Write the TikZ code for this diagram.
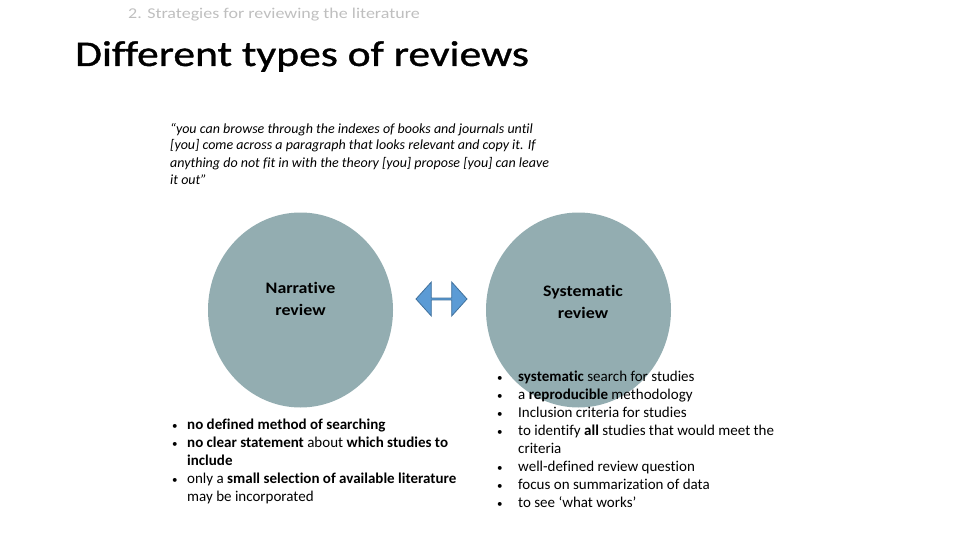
\documentclass[tikz,border=0pt]{standalone}
\usepackage{fontspec}
\setmainfont{Carlito}[Ligatures=NoCommon]
\usepackage{xcolor}
\usepackage{tikz}
\usetikzlibrary{shapes.geometric, shapes.arrows, positioning}
\definecolor{circlefill}{HTML}{93ADB1}
\definecolor{arrowfill}{HTML}{5B9BD5}
\definecolor{arrowline}{HTML}{41719C}
\definecolor{subgray}{HTML}{BFBFBF}
\newcommand{\bulletdot}{{\fontsize{11}{11}\selectfont •}}
\tikzset{
    reviewcircle/.style={ellipse, fill=circlefill, minimum width=185pt, minimum height=195pt, inner sep=0pt},
    circlelabel/.style={align=center, font=\fontsize{16}{21.5}\selectfont\bfseries\addfontfeatures{FakeStretch=1.12}},
    bulletlist/.style={anchor=base west, inner sep=0pt, align=left, font=\fontsize{15}{18}\selectfont},
    compare/.style={double arrow, double arrow head extend=7pt, double arrow tip angle=96, minimum height=51pt, minimum width=34pt, inner sep=0pt, fill=arrowfill, draw=arrowline, line width=0.8pt}
}

\begin{document}
\begin{tikzpicture}[x=1pt, y=-1pt]
  \useasboundingbox (0,0) rectangle (960,540);
  \node[anchor=base west, inner sep=0pt, text=subgray, font=\fontsize{15}{18}\selectfont\addfontfeatures{FakeStretch=1.2}] (subtitle) at (128,19) {2. Strategies for reviewing the literature};
  \node[anchor=base west, inner sep=0pt, font=\fontsize{36}{44}\selectfont\addfontfeatures{FakeStretch=1.21, FakeBold=1}] (title) at (75,66) {Different types of reviews};
  \node[anchor=base west, inner sep=0pt, align=left, font=\fontsize{14}{17}\selectfont\itshape] (quote) at (170,184)
    {“you can browse through the indexes of books and journals until\\
     {[you]} come across a paragraph that looks relevant and copy it. If\\
     anything do not fit in with the theory [you] propose [you] can leave\\
     it out”};
  \node[reviewcircle, label={[circlelabel, yshift=11pt]center:Narrative\\review}] (narrative) at (300.5,310) {};
  \node[reviewcircle, label={[circlelabel, xshift=4.5pt, yshift=8pt]center:Systematic\\review}] (systematic) at (578.5,310) {};
  \node[compare] (arrow) at (441.5,299) {};
  \node[bulletlist] (narrlist) at (172,429) {%
    \begin{tabular}[t]{@{}p{15pt}@{}l@{}}
      \bulletdot & \textbf{no defined method of searching}\\
      \bulletdot & \textbf{no clear statement} about \textbf{which studies to}\\
        & \textbf{include}\\
      \bulletdot & only a \textbf{small selection of available literature}\\
        & may be incorporated
    \end{tabular}};
  \node[bulletlist] (systlist) at (497,381) {%
    \begin{tabular}[t]{@{}p{21pt}@{}l@{}}
      \bulletdot & \textbf{systematic} search for studies\\
      \bulletdot & a \textbf{reproducible} methodology\\
      \bulletdot & Inclusion criteria for studies\\
      \bulletdot & to identify \textbf{all} studies that would meet the\\
        & criteria\\
      \bulletdot & well-defined review question\\
      \bulletdot & focus on summarization of data\\
      \bulletdot & to see ‘what works’
    \end{tabular}};
\end{tikzpicture}
\end{document}
